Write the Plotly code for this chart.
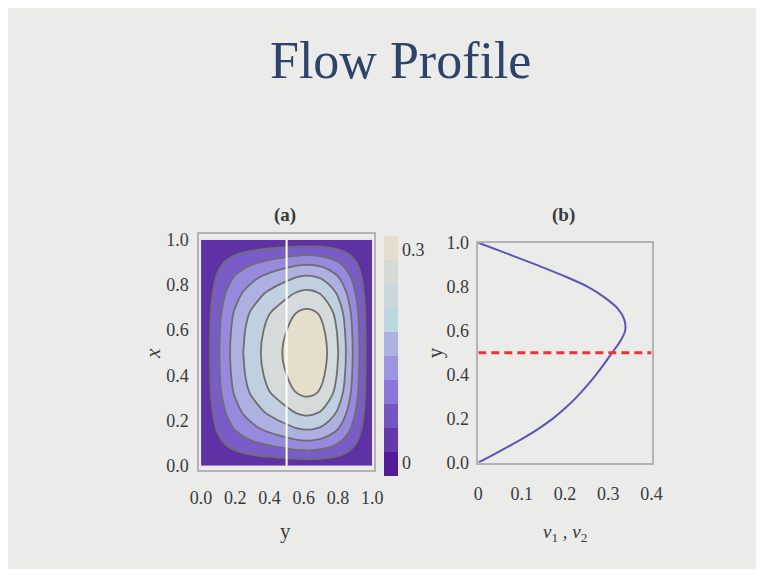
import numpy as np
import plotly.graph_objects as go

# ---------------- data ----------------
# panel (b): velocity along the white line (x = 0.5) as a function of y
y_pos = [0, 0.05, 0.1, 0.15, 0.2, 0.25, 0.3, 0.35, 0.4, 0.45, 0.5,
         0.55, 0.6, 0.65, 0.7, 0.75, 0.8, 0.85, 0.9, 0.95, 1.0]
v_profile = [0, 0.048, 0.094, 0.136, 0.172, 0.202, 0.228, 0.251, 0.272, 0.291, 0.309,
             0.327, 0.339, 0.337, 0.322, 0.292, 0.252, 0.196, 0.133, 0.067, 0]

x_pos = [0, 0.03, 0.07, 0.115, 0.165, 0.235, 0.325, 0.4, 0.5,
         0.6, 0.675, 0.765, 0.835, 0.885, 0.93, 0.97, 1.0]
x_shape = [0, 0.15, 0.30, 0.455, 0.605, 0.765, 0.915, 0.97, 1.0,
           0.97, 0.915, 0.765, 0.605, 0.455, 0.30, 0.15, 0]

tick_a = [0, 0.2, 0.4, 0.6, 0.8, 1.0]
tick_a_text = ["0.0", "0.2", "0.4", "0.6", "0.8", "1.0"]
tick_bx = [0, 0.1, 0.2, 0.3, 0.4]
tick_bx_text = ["0", "0.1", "0.2", "0.3", "0.4"]
cbar_ticks = [0, 0.3]
cbar_text = ["0", "0.3"]
cut_position = 0.5

# contour field table built from the two read profiles
z_field = np.outer(np.array(x_shape), np.array(v_profile))

band_colors = ["#5e31a4", "#7a5cc9", "#978ade", "#aeb0e2", "#c1d0e1", "#d4dbda", "#e6decd"]
contour_scale = [[i / (len(band_colors) - 1), c] for i, c in enumerate(band_colors)]

legend_colors = ["#521b98", "#633aaa", "#7455c2", "#8a76da", "#9c94e2",
                 "#aab3e2", "#bcd6e2", "#c9d8dd", "#d6dad6", "#e6ddcb"]
legend_scale = []
for i, c in enumerate(legend_colors):
    legend_scale.append([i / len(legend_colors), c])
    legend_scale.append([(i + 1) / len(legend_colors), c])

# the page body has an 8px margin on every side; keep the figure inside the window
OX, OY = 8, 8
W, H = 748, 561
BG = "#ebebea"
FRAME = "#b3b3b3"
TXT = "#3a3a3a"
SERIF = "Liberation Serif"

def px_x(p):
    return (p - OX) / W

def px_y(p):
    return 1 - (p - OY) / H

fig = go.Figure()

fig.add_trace(go.Contour(
    x=y_pos, y=x_pos, z=z_field,
    autocontour=False,
    contours=dict(start=0.05, end=0.3, size=0.05, coloring="fill", showlines=True),
    colorscale=contour_scale,
    line=dict(color="#6e6e6e", width=1.8, smoothing=1.0),
    showscale=False, hoverinfo="skip",
    xaxis="x", yaxis="y",
))

fig.add_trace(go.Scatter(
    x=[cut_position, cut_position], y=[0, 1], mode="lines",
    line=dict(color="white", width=2), hoverinfo="skip", showlegend=False,
    xaxis="x", yaxis="y",
))

# colour legend (discrete bar)
fig.add_trace(go.Scatter(
    x=[0.5, 0.5], y=[0.5, 0.5], mode="markers",
    marker=dict(
        color=[0, 0.3], cmin=-0.018, cmax=0.32, colorscale=legend_scale,
        opacity=0, size=1, showscale=True,
        colorbar=dict(
            x=px_x(385), xanchor="left", y=px_y(358), yanchor="middle",
            thickness=14, thicknessmode="pixels", len=240, lenmode="pixels",
            xpad=0, ypad=0, outlinewidth=0,
            tickvals=cbar_ticks, ticktext=cbar_text, ticks="",
            tickfont=dict(family=SERIF, size=18, color=TXT),
        ),
    ),
    hoverinfo="skip", showlegend=False, xaxis="x", yaxis="y",
))

# panel (b)
fig.add_trace(go.Scatter(
    x=v_profile, y=y_pos, mode="lines",
    line=dict(color="#5a55b6", width=2, shape="spline", smoothing=1.0),
    hoverinfo="skip", showlegend=False, xaxis="x2", yaxis="y2",
))
fig.add_trace(go.Scatter(
    x=[0, 0.4], y=[cut_position, cut_position], mode="lines",
    line=dict(color="#e8323c", width=3, dash="8px,5px"),
    hoverinfo="skip", showlegend=False, xaxis="x2", yaxis="y2",
))

axis_common = dict(
    showgrid=False, zeroline=False, showline=True, mirror=True,
    linecolor=FRAME, linewidth=1.5, ticks="",
    tickfont=dict(family=SERIF, size=18, color=TXT),
)

fig.update_layout(
    width=W, height=H,
    margin=dict(l=0, r=0, t=0, b=0),
    paper_bgcolor=BG, plot_bgcolor=BG,
    showlegend=False,
    xaxis=dict(domain=[px_x(195), px_x(375)], range=[-0.012, 1.012],
               tickvals=tick_a, ticktext=tick_a_text, ticklabelstandoff=10,
               anchor="y", **axis_common),
    yaxis=dict(domain=[px_y(477), px_y(232)], range=[-0.02, 1.025],
               tickvals=tick_a, ticktext=tick_a_text, ticklabelstandoff=5,
               anchor="x", **axis_common),
    xaxis2=dict(domain=[px_x(482), px_x(660)], range=[0, 0.4],
                tickvals=tick_bx, ticktext=tick_bx_text, ticklabelstandoff=14,
                anchor="y2", **axis_common),
    yaxis2=dict(domain=[px_y(469), px_y(241)], range=[0, 1],
                tickvals=tick_a, ticktext=tick_a_text, ticklabelstandoff=4,
                anchor="x2", **axis_common),
)

def note(text, xp, yp, size, angle=0, color=TXT, family=SERIF):
    fig.add_annotation(text=text, x=px_x(xp), y=px_y(yp), xref="paper", yref="paper",
                       xanchor="center", yanchor="middle", showarrow=False,
                       textangle=angle, font=dict(family=family, size=size, color=color))

note("Flow Profile", 402, 52, 52, color="#2d4369")
note("<b>(a)</b>", 283, 212, 19)
note("<b>(b)</b>", 570, 212, 19)
note("<i>x</i>", 147, 356, 21, angle=-90)
note("y", 284, 540, 21)
note("y", 437, 355, 21, angle=-90)
note("<i>v</i><sub>1</sub> , <i>v</i><sub>2</sub>", 571, 542, 19)

fig.write_html("out.html")
